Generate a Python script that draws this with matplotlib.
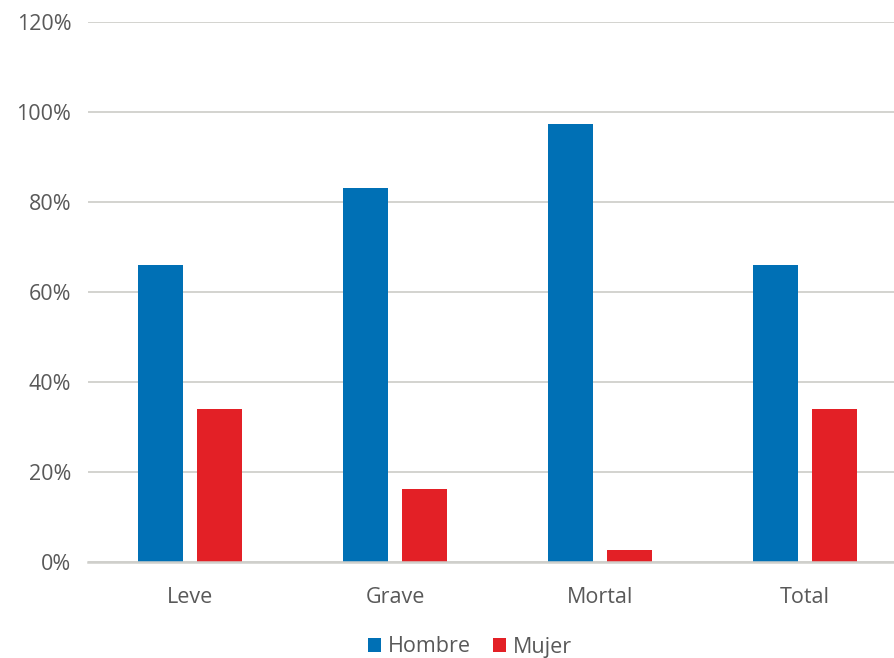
import matplotlib
matplotlib.use("Agg")
import matplotlib.pyplot as plt
import numpy as np
from matplotlib.ticker import FuncFormatter

categories = ["Leve", "Grave", "Mortal", "Total"]
hombre = [66.0, 83.1, 97.3, 66.0]
mujer = [34.0, 16.2, 2.7, 34.0]
series_names = ["Hombre", "Mujer"]
yticks = [0, 20, 40, 60, 80, 100, 120]

plt.rcParams['font.family'] = ['Open Sans', 'DejaVu Sans']
W, H = 895, 658
fig = plt.figure(figsize=(W/100, H/100), dpi=100)
left, right = 88, 907
top, bottom = 22, 562
ax = fig.add_axes([left/W, 1 - bottom/H, (right-left)/W, (bottom-top)/H])

x = np.arange(len(categories))
bw = 0.22
off = 0.144
blue = "#0070B5"
red = "#E32026"
ax.bar(x - off, hombre, bw, color=blue, label=series_names[0], zorder=3)
ax.bar(x + off, mujer, bw, color=red, label=series_names[1], zorder=3)

ax.set_xlim(-0.5, len(categories) - 0.5)
ax.set_ylim(0, 120)
ax.set_yticks(yticks)
ax.yaxis.set_major_formatter(FuncFormatter(lambda v, p: f"{int(v)}%"))
ax.grid(axis='y', color="#D0D0CC", linewidth=1.3, zorder=0)
ax.set_xticks(x)
ax.set_xticklabels(categories)
for s in ['top', 'right', 'left']:
    ax.spines[s].set_visible(False)
ax.spines['bottom'].set_color("#CFCFCB")
ax.spines['bottom'].set_linewidth(1.8)
ax.spines['bottom'].set_zorder(4)
ax.tick_params(axis='both', length=0, labelsize=15.5, colors="#595959")
ax.tick_params(axis='x', pad=18)
ax.tick_params(axis='y', pad=12)

leg = fig.legend(loc='center', bbox_to_anchor=(470/W, 1 - 647/H), ncol=2,
                 frameon=False, fontsize=15.5, handlelength=0.6, handleheight=0.6,
                 handletextpad=0.35, columnspacing=1.0)
for t in leg.get_texts():
    t.set_color("#595959")

fig.savefig("out.png", dpi=100)
